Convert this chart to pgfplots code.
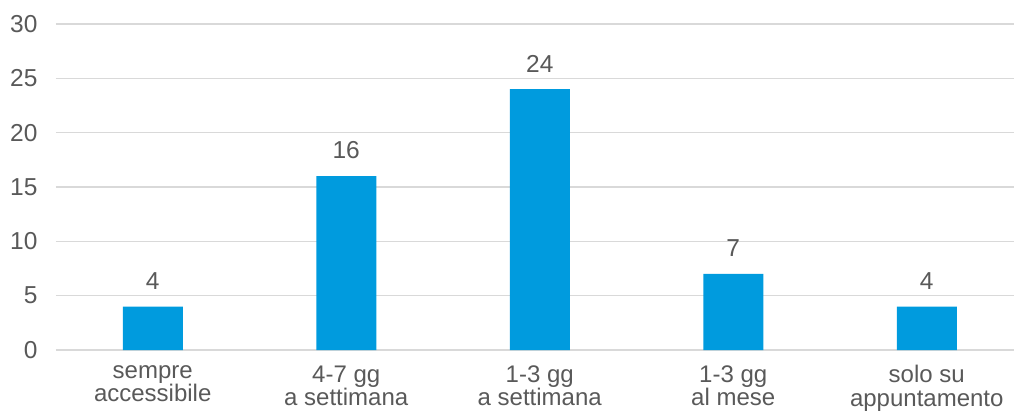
\documentclass[border=0pt]{standalone}
\usepackage{pgfplots}
\pgfplotsset{compat=1.18}
\usepackage{fontspec}
\setmainfont{Liberation Sans}
\definecolor{barblue}{RGB}{0,155,222}
\definecolor{txtgray}{RGB}{89,89,89}
\definecolor{gridgray}{RGB}{217,217,217}
\begin{document}
\begin{tikzpicture}
\path[use as bounding box] (-56pt,-60pt) rectangle (958pt,350pt);
\begin{axis}[
  name=ax,
  at={(0,0)}, anchor=south west,
  scale only axis,
  width=967.5pt, height=326pt,
  xmin=-0.5, xmax=4.5,
  ymin=0, ymax=30,
  ytick={0,5,...,30},
  xtick=data,
  xticklabels={{sempre\\accessibile},{4-7 gg\\a settimana},{1-3 gg\\a settimana},{1-3 gg\\al mese},{solo su\\appuntamento}},
  xticklabel style={align=center, font=\fontsize{24}{23.5}\selectfont, text=txtgray, yshift=-12pt},
  yticklabel style={font=\fontsize{24.5}{27}\selectfont, text=txtgray, xshift=-15pt},
  /pgf/number format/assume math mode=true,
  axis line style={draw=none},
  major tick length=0pt,
  ymajorgrids,
  grid style={gridgray, line width=1.5pt},
  ybar, bar width=60pt,
  nodes near coords,
  every node near coord/.append style={font=\fontsize{24.5}{27}\selectfont, text=txtgray, yshift=13.5pt},
  clip=false,
]
\addplot[fill=barblue, draw=none] coordinates {(0,4) (1,16) (2,24) (3,7) (4,4)};
\end{axis}
\end{tikzpicture}
\end{document}
